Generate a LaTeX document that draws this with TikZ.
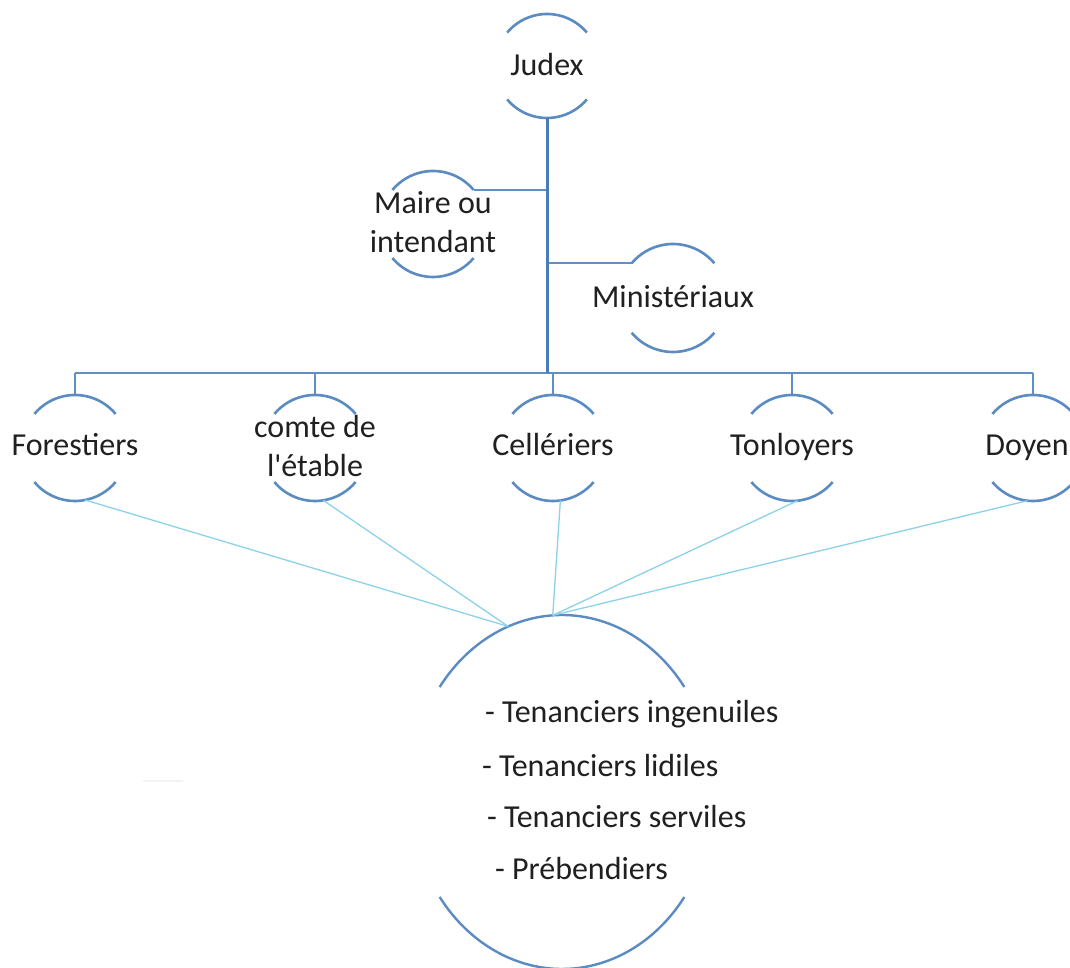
\documentclass[tikz,border=0pt]{standalone}
\usepackage{fontspec}
\setmainfont{Carlito}
\usetikzlibrary{shapes.geometric}
\definecolor{arcblue}{HTML}{5A8BC2}
\definecolor{trunkblue}{HTML}{4A7DB5}
\definecolor{branchblue}{HTML}{5F8FC4}
\definecolor{feedcyan}{HTML}{8CD2E8}
\definecolor{txt}{HTML}{202020}
\newcommand\ringarcs[2]{%
  \draw[arcline] ([shift={(40:#2)}]#1.center) arc[start angle=40,end angle=140,radius=#2];
  \draw[arcline] ([shift={(220:#2)}]#1.center) arc[start angle=220,end angle=320,radius=#2];}
\begin{document}
\begin{tikzpicture}[x=1pt,y=1pt,
  ring/.style={circle,minimum size=#1,inner sep=0pt,outer sep=0pt},
  arcline/.style={draw=arcblue,line width=2.6pt},
  trunkline/.style={draw=trunkblue,line width=3pt},
  branch/.style={draw=branchblue,line width=2.2pt},
  feed/.style={draw=feedcyan,line width=1.3pt},
  lbl/.style={inner sep=0pt,outer sep=0pt,text=txt,font=\fontsize{32}{39}\selectfont,align=center},
  one/.style={lbl,text height=22pt,text depth=7pt},
  item/.style={inner sep=0pt,outer sep=0pt,text=txt,font=\fontsize{32}{39}\selectfont,anchor=base west}]
\fill[white] (0,0) rectangle (1070,968);
\useasboundingbox (0,0) rectangle (1070,968);
% circles
\node[ring=104pt] (judex) at (547,902) {};
\node[ring=106pt] (maire) at (433,744) {};
\node[ring=108pt] (minist) at (673,670) {};
\node[ring=106pt] (forest) at (75,520) {};
\node[ring=106pt] (comte) at (315,520) {};
\node[ring=106pt] (celler) at (553,520) {};
\node[ring=106pt] (tonl) at (792,520) {};
\node[ring=106pt] (doyen) at (1033,520) {};
\node[ellipse,minimum width=304pt,minimum height=354pt,inner sep=0pt,outer sep=0pt] (big) at (562,176) {};
\coordinate (barL) at (75,595);
% arcs
\ringarcs{judex}{52pt}
\ringarcs{maire}{53pt}
\ringarcs{minist}{54pt}
\ringarcs{forest}{53pt}
\ringarcs{comte}{53pt}
\ringarcs{celler}{53pt}
\ringarcs{tonl}{53pt}
\ringarcs{doyen}{53pt}
\draw[arcline,line width=2.4pt] ([shift={(36.4:152pt and 177pt)}]big.center) arc[start angle=36.4,end angle=143.6,x radius=152pt,y radius=177pt];
\draw[arcline,line width=2.4pt] ([shift={(216.4:152pt and 177pt)}]big.center) arc[start angle=216.4,end angle=323.6,x radius=152pt,y radius=177pt];
% connectors
\draw[branch] (maire.40) -- (maire.40 -| judex.south);
\draw[branch] (minist.140) -- (minist.140 -| judex.south);
\draw[branch] (forest.north |- barL) -- (doyen.north |- barL);
\draw[trunkline] (judex.south) -- (judex.south |- barL);
\foreach \n in {forest,comte,celler,tonl,doyen}{
  \draw[branch] (\n.north |- barL) -- (\n.north);
}
\draw[feed] (forest.-79) -- (big.108);
\draw[feed] (comte.-81) -- (big.108);
\draw[feed] (celler.-82) -- (big.93);
\draw[feed] (tonl.-84) -- (big.93);
\draw[feed] (doyen.-96) -- (big.93);
% texts
\node[one,yshift=-2pt] (judexT) at (judex) {Judex};
\node[lbl,yshift=2pt] (maireT) at (maire) {Maire ou\\intendant};
\node[one,yshift=-2pt] (ministT) at (minist) {Ministériaux};
\node[one] (forestT) at (forest) {Forestiers};
\node[lbl,yshift=2pt] (comteT) at (comte) {comte de\\l\textquotesingle étable};
\node[one] (cellerT) at (celler) {Cellériers};
\node[one] (tonlT) at (tonl) {Tonloyers};
\node[one,xshift=-6pt] (doyenT) at (doyen) {Doyen};
\node[item] (i1) at (485,245) {- Tenanciers ingenuiles};
\node[item] (i2) at (482,191) {- Tenanciers lidiles};
\node[item] (i3) at (487,140) {- Tenanciers serviles};
\node[item] (i4) at (495,88) {- Prébendiers};
\fill[black!5] (143,186) rectangle (183,188);
\end{tikzpicture}
\end{document}
